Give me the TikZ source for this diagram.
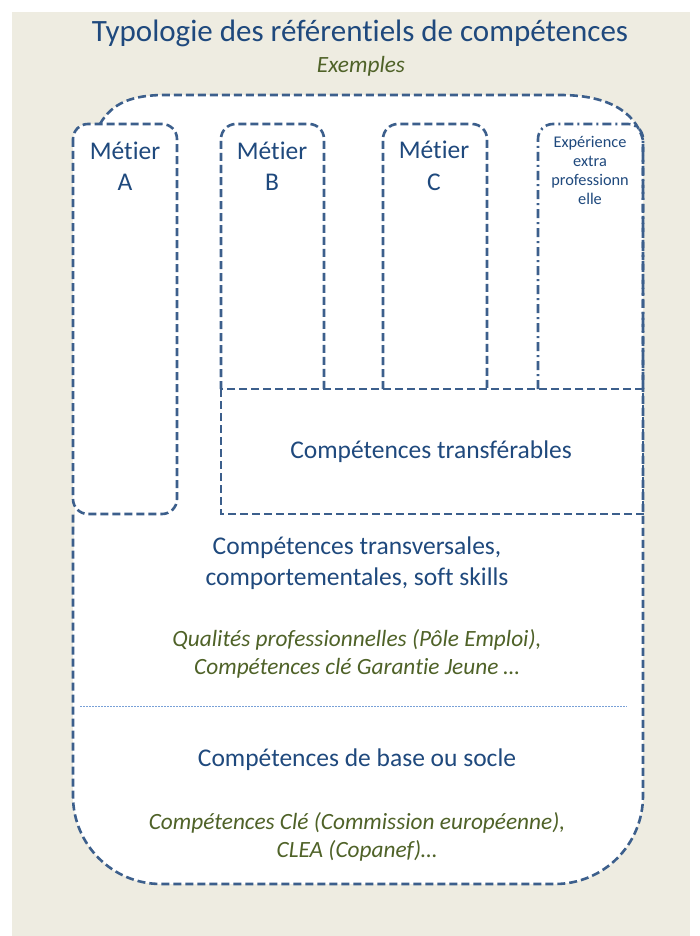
\documentclass[tikz,border=0pt]{standalone}
\usepackage{fontspec}
\setmainfont{Carlito}[Ligatures=NoCommon]
\usepackage{xcolor}
\definecolor{TitleBlue}{RGB}{31,73,125}
\definecolor{FrameBlue}{RGB}{60,95,140}
\definecolor{OliveText}{RGB}{79,98,40}
\definecolor{PaperBeige}{RGB}{238,236,225}
\definecolor{SkyLine}{RGB}{120,160,215}
\usepackage{tikz}
\usetikzlibrary{calc}
\tikzset{
	dashline/.style={draw=FrameBlue, line width=2.6pt, dash pattern=on 8pt off 4pt},
	dashdotline/.style={draw=FrameBlue, line width=2.6pt, dash pattern=on 9pt off 4pt on 2pt off 4pt},
	bluetext/.style={text=TitleBlue, align=center, font=\fontsize{25.5}{31.5}\selectfont},
	greentext/.style={text=OliveText, align=center, font=\fontsize{23.3}{28}\selectfont\itshape},
}
\providecommand{\OpenBox}[5][dashline]{% style, left x, right x, top y, bottom y
	\draw[#1, rounded corners=15pt] (#2,#5) -- (#2,#4) -- (#3,#4) -- (#3,#5);
}

\begin{document}
\begin{tikzpicture}[x=1pt, y=-1pt]

	\useasboundingbox (0,0) rectangle (700,936);
	\fill[white] (0,0) rectangle (700,936);
	\fill[PaperBeige] (12,12) rectangle (690,936);

	\coordinate (topL) at (100,124);
	\coordinate (topR) at (643,140);
	\coordinate (botL) at (73,514);

	% outer frame
	\fill[white] (topL) .. controls (112,103) and (132,95) .. (165,95) -- (560,95) .. controls (605,95) and (635,110) .. (topR) -- (643,300) [rounded corners=88pt] -- (643,884) -- (73,884) -- (botL) [sharp corners] -- cycle;
	\fill[white, rounded corners=15pt] (73,124) rectangle (177,514);
	\draw[dashline] (topL) .. controls (112,103) and (132,95) .. (165,95) -- (560,95) .. controls (605,95) and (635,110) .. (topR) -- (643,300) [rounded corners=88pt] -- (643,884) -- (73,884) -- (botL);

	\draw[dashline, rounded corners=15pt] (73,124) rectangle (177,514);
	\OpenBox{221}{324}{124}{389}
	\OpenBox{383}{487}{124}{389}
	\OpenBox[dashdotline]{538}{643}{124}{389}
	\draw[dashline] (221,389) rectangle (643,514);

	\draw[SkyLine, line width=1pt, dash pattern=on 2pt off 1pt] (80,706) -- (627,706);

	\node[text=TitleBlue, font=\fontsize{31}{36}\selectfont] (title) at (360,33) {Typologie des référentiels de compétences};
	\node[greentext] (exemples) at (361,66) {Exemples};

	\node[bluetext] (metierA) at (125,166) {Métier\\A};
	\node[bluetext] (metierB) at (272,166) {Métier\\B};
	\node[bluetext] (metierC) at (434,166) {Métier\\C};
	\node[bluetext, font=\fontsize{16.3}{19}\selectfont] (experience) at (590,170) {Expérience\\extra\\professionn\\elle};

	\node[bluetext] (transfer) at (431,452) {Compétences transférables};
	\node[bluetext] (transversal) at (357,563) {Compétences transversales,\\comportementales, soft skills};
	\node[greentext] (qualites) at (357,654) {Qualités professionnelles (Pôle Emploi),\\Compétences clé Garantie Jeune …};
	\node[bluetext] (socle) at (357,760) {Compétences de base ou socle};
	\node[greentext] (cle) at (357,837) {Compétences Clé (Commission européenne),\\CLEA (Copanef)…};

	% \draw (current bounding box.south west) rectangle (current bounding box.north east);

\end{tikzpicture}
\end{document}
